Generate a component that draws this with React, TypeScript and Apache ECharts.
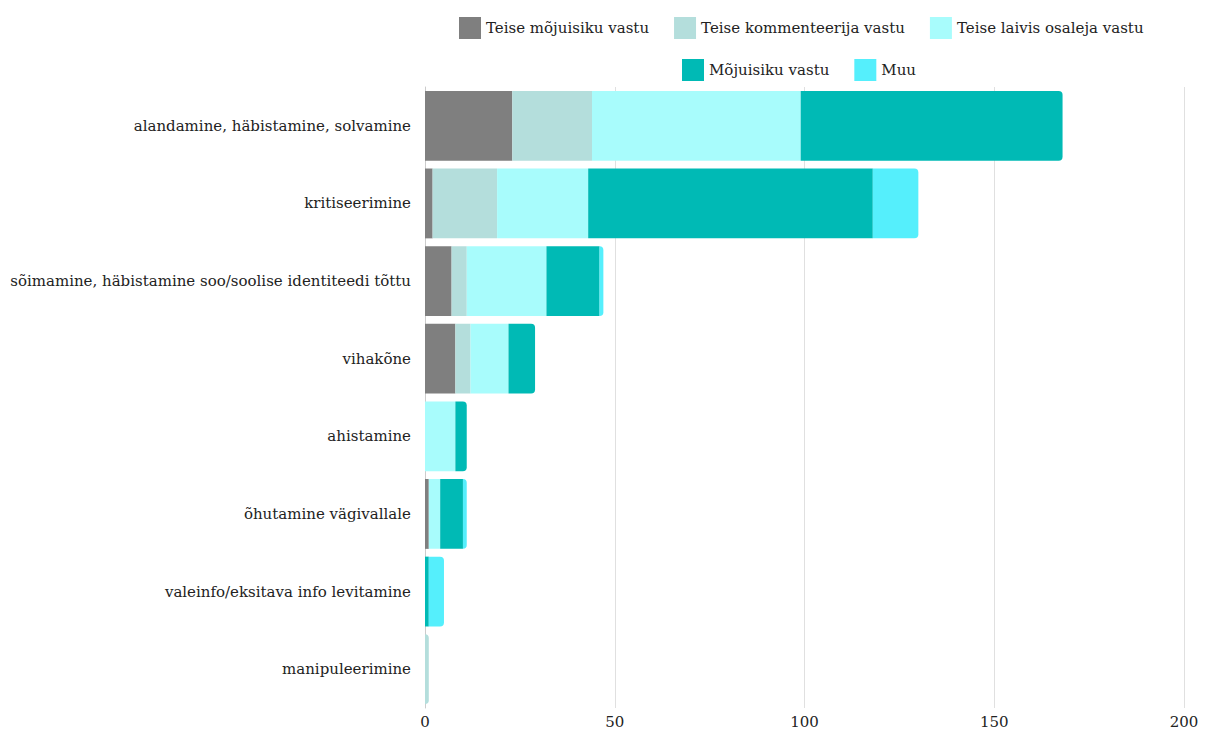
import React, { useEffect, useRef } from "react";
import * as echarts from "echarts";

const categories = [
  "alandamine, häbistamine, solvamine",
  "kritiseerimine",
  "sõimamine, häbistamine soo/soolise identiteedi tõttu",
  "vihakõne",
  "ahistamine",
  "õhutamine vägivallale",
  "valeinfo/eksitava info levitamine",
  "manipuleerimine",
];

const seriesNames = [
  "Teise mõjuisiku vastu",
  "Teise kommenteerija vastu",
  "Teise laivis osaleja vastu",
  "Mõjuisiku vastu",
  "Muu",
];

const teiseMojuisiku = [23, 2, 7, 8, 0, 1, 0, 0];
const teiseKommenteerija = [21, 17, 4, 4, 0, 0, 0, 1];
const teiseLaivis = [55, 24, 21, 10, 8, 3, 0, 0];
const mojuisiku = [69, 75, 14, 7, 3, 6, 1, 0];
const muu = [0, 12, 1, 0, 0, 1, 4, 0];

const colors = ["#7f7f7f", "#b4dedc", "#a8fcfc", "#00bab5", "#55effc"];

const xTicks = [0, 50, 100, 150, 200];

const FONT = "DejaVu Serif";

export default function App() {
  const ref = useRef<HTMLDivElement>(null);
  useEffect(() => {
    if (!ref.current) return;
    const chart = echarts.init(ref.current, undefined, { renderer: "svg" });
    const all = [teiseMojuisiku, teiseKommenteerija, teiseLaivis, mojuisiku, muu];
    const lastIdx = categories.map((_, ci) => {
      let li = -1;
      all.forEach((arr, si) => {
        if (arr[ci] > 0) li = si;
      });
      return li;
    });
    const series = all.map((arr, si) => ({
      name: seriesNames[si],
      type: "bar",
      stack: "total",
      barWidth: "90%",
      itemStyle: { color: colors[si] },
      data: arr.map((v, ci) => ({
        value: v,
        itemStyle: { borderRadius: lastIdx[ci] === si ? [0, 4, 4, 0] : 0 },
      })),
    }));
    const legendText = { fontFamily: FONT, fontSize: 15, color: "#222" };
    chart.setOption({
      animation: false,
      legend: [
        {
          data: seriesNames.slice(0, 3),
          left: 454,
          top: 12,
          width: 740,
          itemWidth: 22,
          itemHeight: 22,
          itemGap: 25,
          icon: "rect",
          textStyle: legendText,
        },
        {
          data: seriesNames.slice(3),
          left: 677,
          top: 54,
          width: 500,
          itemWidth: 22,
          itemHeight: 22,
          itemGap: 25,
          icon: "rect",
          textStyle: legendText,
        },
      ],
      grid: { left: 425, right: 25, top: 87, bottom: 20, containLabel: false },
      xAxis: {
        type: "value",
        min: 0,
        max: 200,
        interval: 50,
        axisLine: { show: false },
        axisTick: { show: false },
        axisLabel: {
          fontFamily: FONT,
          fontSize: 15,
          color: "#222",
          margin: 6,
          formatter: (v: number) => (xTicks.includes(v) ? String(v) : ""),
        },
        splitLine: { show: true, lineStyle: { color: "#e0e0e0", width: 1 } },
      },
      yAxis: {
        type: "category",
        inverse: true,
        data: categories,
        axisLine: { show: true, lineStyle: { color: "#cccccc" } },
        axisTick: { show: false },
        axisLabel: { fontFamily: FONT, fontSize: 15, color: "#222", margin: 14 },
      },
      series,
    });
    return () => chart.dispose();
  }, []);
  return (
    <div
      ref={ref}
      style={{ position: "fixed", left: 0, top: 0, width: 1209, height: 729, background: "#fff" }}
    />
  );
}
